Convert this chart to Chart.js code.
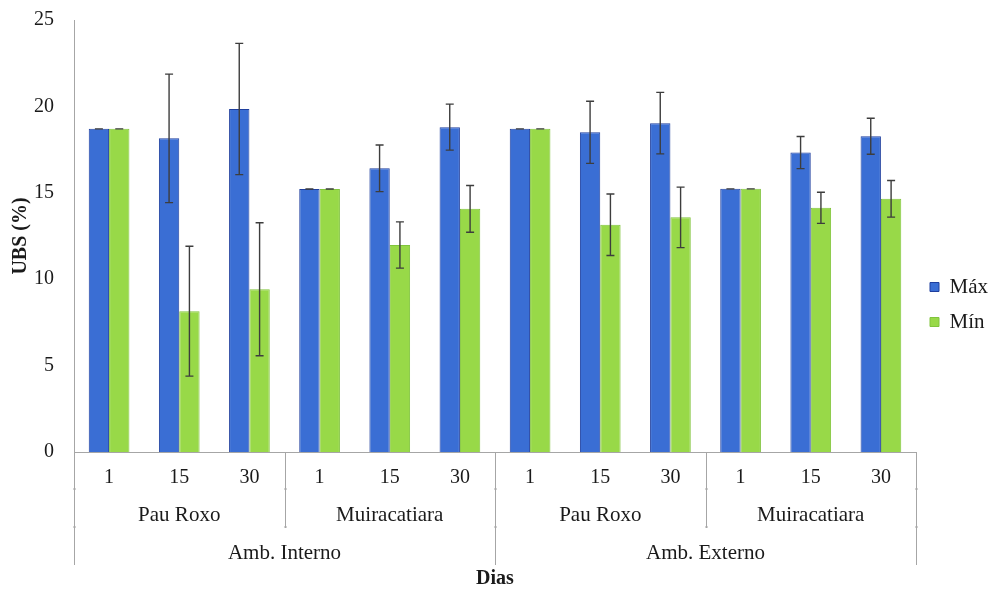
<!DOCTYPE html>
<html>
<head>
<meta charset="utf-8">
<script src="https://cdn.jsdelivr.net/npm/chart.js@4/dist/chart.umd.min.js"></script>
<style>
html,body{margin:0;padding:0;background:#fff;}
#wrap{width:994px;height:589px;}
</style>
</head>
<body>
<div id="wrap"><canvas id="c" width="994" height="589"></canvas></div>
<script>
// ---- data ----
const days = ['1','15','30','1','15','30','1','15','30','1','15','30'];
const woods = ['Pau Roxo','Muiracatiara','Pau Roxo','Muiracatiara'];
const envs = ['Amb. Interno','Amb. Externo'];
const maxValues = [18.7, 18.15, 19.85, 15.22, 16.42, 18.8, 18.7, 18.5, 19.03, 15.23, 17.33, 18.27];
const maxErr    = [0, 3.72, 3.8, 0, 1.35, 1.33, 0, 1.8, 1.78, 0, 0.93, 1.04];
const minValues = [18.7, 8.15, 9.42, 15.22, 11.98, 14.07, 18.7, 13.15, 13.58, 15.23, 14.13, 14.65];
const minErr    = [0, 3.76, 3.85, 0, 1.34, 1.35, 0, 1.78, 1.75, 0, 0.9, 1.06];
const seriesNames = ['Máx','Mín'];
const yTitle = 'UBS (%)';
const xTitle = 'Dias';

const FONT = "'Liberation Serif', 'Times New Roman', serif";
const TXT = '#1a1a1a';
const AXIS = '#a6a6a6';

const errorBars = {
  id: 'errorBars',
  afterDatasetsDraw(chart) {
    const y = chart.scales.y;
    const errs = [maxErr, minErr];
    const vals = [maxValues, minValues];
    const ctx = chart.ctx;
    ctx.save();
    ctx.strokeStyle = '#3d3d3d';
    ctx.lineWidth = 1.4;
    chart.data.datasets.forEach((ds, d) => {
      const meta = chart.getDatasetMeta(d);
      meta.data.forEach((bar, i) => {
        const v = vals[d][i], e = errs[d][i];
        const yt = y.getPixelForValue(v + e), yb = y.getPixelForValue(v - e);
        const x = bar.x, cw = 4;
        ctx.beginPath();
        if (e > 0) { ctx.moveTo(x, yt); ctx.lineTo(x, yb); }
        ctx.moveTo(x - cw, yt); ctx.lineTo(x + cw, yt);
        ctx.moveTo(x - cw, yb); ctx.lineTo(x + cw, yb);
        ctx.stroke();
      });
    });
    ctx.restore();
  }
};

const groupAxis = {
  id: 'groupAxis',
  afterDraw(chart) {
    const xs = chart.scales.x;
    const area = chart.chartArea;
    const ctx = chart.ctx;
    const b = area.bottom;
    const px = v => xs.getPixelForValue(v);
    ctx.save();
    ctx.strokeStyle = AXIS;
    ctx.lineWidth = 1;
    const line = (x, y2) => {
      x = Math.round(x) + 0.5;
      ctx.beginPath(); ctx.moveTo(x, b); ctx.lineTo(x, y2); ctx.stroke();
      [b + 37, b + 75].forEach(yy => { if (yy < y2) { ctx.beginPath(); ctx.moveTo(x - 1.5, yy); ctx.lineTo(x + 1.5, yy); ctx.stroke(); } });
    };
    const n = days.length;
    const wSpan = n / woods.length, eSpan = n / envs.length;
    for (let k = 0; k <= woods.length; k++) {
      const idx = k * wSpan - 0.5;
      const long = (k * wSpan) % eSpan === 0;
      line(px(idx), long ? b + 113 : b + 76);
    }
    ctx.fillStyle = TXT;
    ctx.textAlign = 'center';
    ctx.textBaseline = 'middle';
    ctx.font = "21px " + FONT;
    woods.forEach((w, k) => {
      const c = (px(k * wSpan - 0.5) + px((k + 1) * wSpan - 0.5)) / 2;
      ctx.fillText(w, c, b + 63);
    });
    envs.forEach((e, k) => {
      const c = (px(k * eSpan - 0.5) + px((k + 1) * eSpan - 0.5)) / 2;
      ctx.fillText(e, c, b + 101);
    });
    ctx.restore();
  }
};

new Chart(document.getElementById('c'), {
  type: 'bar',
  data: {
    labels: days,
    datasets: [
      { label: seriesNames[0], data: maxValues, backgroundColor: '#3a6ed4', borderColor: '#1f3f9e', borderWidth: 1 },
      { label: seriesNames[1], data: minValues, backgroundColor: '#98d948', borderColor: '#80c43c', borderWidth: 1 }
    ]
  },
  options: {
    responsive: false,
    animation: false,
    layout: { padding: { top: 20, left: 0, right: -4, bottom: 0 } },
    datasets: { bar: { categoryPercentage: 0.58, barPercentage: 1.0 } },
    plugins: {
      tooltip: { enabled: false },
      legend: {
        position: 'right',
        labels: {
          font: { family: FONT, size: 21 },
          color: TXT,
          boxWidth: 9,
          boxHeight: 9,
          padding: 14
        }
      }
    },
    scales: {
      x: {
        grid: { display: false, drawTicks: false },
        border: { display: true, color: AXIS, width: 1 },
        ticks: { font: { family: FONT, size: 20 }, color: TXT, padding: 14, autoSkip: false, maxRotation: 0 },
        title: { display: true, text: xTitle, font: { family: FONT, size: 20, weight: 'bold', lineHeight: 1.0 }, color: TXT, padding: { top: 0, bottom: 0 } },
        afterFit(s) { s.height = 137; }
      },
      y: {
        min: 0, max: 25,
        grid: { display: false, drawTicks: false },
        border: { display: true, color: AXIS, width: 1 },
        ticks: { stepSize: 5, font: { family: FONT, size: 20 }, color: TXT, padding: 20 },
        title: { display: true, text: yTitle, font: { family: FONT, size: 20, weight: 'bold' }, color: TXT, padding: { top: 9, bottom: 0 } },
        afterFit(s) { s.width = 74; s.paddingTop = 0; s.paddingBottom = 0; }
      }
    }
  },
  plugins: [errorBars, groupAxis]
});
</script>
</body>
</html>
